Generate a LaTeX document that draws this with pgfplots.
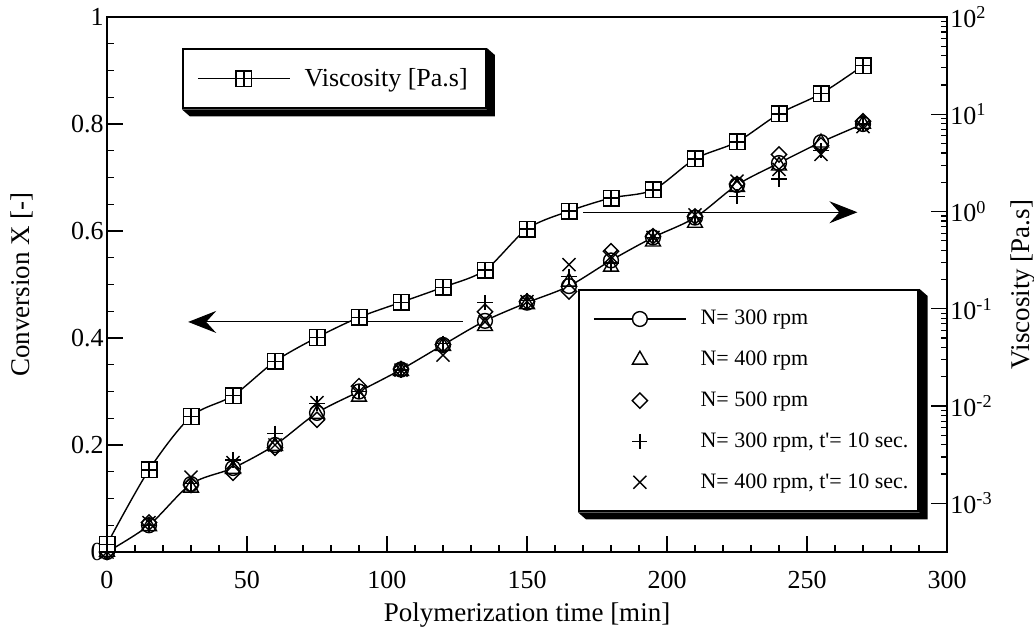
\documentclass[border=0pt]{standalone}
\usepackage{pgfplots}
\pgfplotsset{compat=1.18}
\usepackage{fontspec}
\setmainfont{Liberation Serif}
\usetikzlibrary{arrows.meta,calc}

\pgfdeclareplotmark{boxplus}{%
  \pgfpathrectangle{\pgfqpoint{-\pgfplotmarksize}{-\pgfplotmarksize}}{\pgfqpoint{2\pgfplotmarksize}{2\pgfplotmarksize}}%
  \pgfusepathqfillstroke
  \pgfpathmoveto{\pgfqpoint{-\pgfplotmarksize}{0pt}}\pgfpathlineto{\pgfqpoint{\pgfplotmarksize}{0pt}}%
  \pgfpathmoveto{\pgfqpoint{0pt}{-\pgfplotmarksize}}\pgfpathlineto{\pgfqpoint{0pt}{\pgfplotmarksize}}%
  \pgfusepathqstroke}

\pgfplotsset{
  legimg/.style={legend image code/.code={\draw[mark repeat=2,mark phase=2,##1] plot coordinates {(0pt,0pt) (23pt,0pt) (46pt,0pt)};}},
  legimgB/.style={legend image code/.code={\path (-4pt,0pt); \draw[mark repeat=2,mark phase=2,##1] plot coordinates {(0pt,0pt) (23pt,0pt) (46pt,0pt)};}},
  base/.style={
    scale only axis, width=420pt, height=267.5pt,
    xmin=0, xmax=300, clip=false,
    axis line style={line width=1.2pt},
    every tick/.style={black, line width=0.6pt},
    tick align=inside,
    major tick length=8pt, minor tick length=3.5pt,
    /pgf/number format/assume math mode=true,
    tick label style={font=\fontsize{13}{15}\selectfont},
    label style={font=\fontsize{13.5}{15}\selectfont},
  },
  boxed/.style={draw=black, line width=1.2pt, fill=white},
}

\newcommand{\legshadow}[1]{%
  \fill[black] (#1.south west) -- ($(#1.south west)+(4pt,-3.5pt)$) -- ($(#1.south east)+(4pt,-3.5pt)$)
    -- ($(#1.north east)+(4pt,-3.5pt)$) -- (#1.north east) -- (#1.south east) -- cycle;}

\pgfplotstableread{
x c300 t400 d500 p300 x400
0 0 0 0 0 0
15 0.05 0.048 0.055 0.05 0.055
30 0.127 0.12 0.125 0.128 0.14
45 0.157 0.155 0.148 0.172 0.167
60 0.2 0.198 0.195 0.222 0.2
75 0.26 0.258 0.247 0.278 0.279
90 0.30 0.29 0.31 0.30 0.30
105 0.341 0.338 0.342 0.34 0.34
120 0.387 0.385 0.388 0.39 0.368
135 0.432 0.422 0.449 0.466 0.43
150 0.466 0.463 0.468 0.47 0.468
165 0.497 0.505 0.487 0.515 0.537
180 0.545 0.533 0.562 0.54 0.552
195 0.588 0.58 0.59 0.588 0.588
210 0.625 0.615 0.627 0.625 0.63
225 0.686 0.682 0.688 0.665 0.693
240 0.727 0.722 0.743 0.697 0.715
255 0.766 0.765 0.76 0.75 0.743
270 0.80 0.80 0.805 0.80 0.795
}\conv

\pgfplotstableread{
x visc
0 3.8e-4
15 2.21e-3
30 7.8e-3
45 1.28e-2
60 2.88e-2
75 5.08e-2
90 8.17e-2
105 0.1167
120 0.1667
135 0.2495
150 0.661
165 1.01
180 1.377
195 1.667
210 3.475
225 5.2
240 10.1
255 16.3
270 31.6
}\visc

\begin{document}
\begin{tikzpicture}
\begin{axis}[base, name=ax1,
  ymin=0, ymax=1,
  tick pos=left,
  xtick={0,50,100,150,200,250,300}, ytick={0,0.2,0.4,0.6,0.8,1},
  minor x tick num=4, minor y tick num=3,
  xticklabel style={yshift=-6pt},
  yticklabel style={xshift=1.8pt},
  xlabel={Polymerization time [min]},
  ylabel={Conversion X [-]},
  xlabel style={at={(axis description cs:0.5,-0.1178)}, anchor=center},
  ylabel style={at={(axis description cs:-0.101,0.5)}, anchor=center},
  legend style={at={(axis description cs:0.5607,0.4916)}, anchor=north west, boxed, name=legB,
    font=\fontsize{11}{12}\selectfont, inner xsep=3pt, inner ysep=8pt, row sep=7.6pt,
    /tikz/every odd column/.append style={column sep=5pt}},
  legend cell align=left,
]
\addplot[black, line width=0.7pt, smooth, mark=*, mark size=3.7pt, mark options={fill=white}, legimgB] table[x=x,y=c300] {\conv};
\addlegendentry{N= 300 rpm}
\addplot[black, line width=0.7pt, only marks, mark=triangle, mark size=4.3pt, legimgB] table[x=x,y=t400] {\conv};
\addlegendentry{N= 400 rpm}
\addplot[black, line width=0.7pt, only marks, mark=square, mark size=2.7pt, mark options={rotate=45}, legimgB] table[x=x,y=d500] {\conv};
\addlegendentry{N= 500 rpm}
\addplot[black, line width=0.7pt, only marks, mark=+, mark size=3.8pt, legimgB] table[x=x,y=p300] {\conv};
\addlegendentry{N= 300 rpm, t\textquotesingle= 10 sec.}
\addplot[black, line width=0.7pt, only marks, mark=x, mark size=4.6pt, legimgB] table[x=x,y=x400] {\conv};
\addlegendentry{N= 400 rpm, t\textquotesingle= 10 sec.}
\draw[black, line width=0.5pt, -{Stealth[length=14pt,width=11pt,inset=5pt]}] (axis cs:127,0.43) -- (axis cs:29,0.43);
\draw[black, line width=0.5pt, -{Stealth[length=14pt,width=11pt,inset=5pt]}] (axis cs:170,0.635) -- (axis cs:268,0.635);
\end{axis}
\legshadow{legB}
\begin{axis}[base,
  ymode=log, ymin=3.1623e-4, ymax=100,
  hide x axis, axis y line*=right,
  minor tick length=3pt,
  ytick={1e-3,1e-2,1e-1,1,10,100},
  yticklabels={10\textsuperscript{-3},10\textsuperscript{-2},10\textsuperscript{-1},10\textsuperscript{0},10\textsuperscript{1},10\textsuperscript{2}},
  yticklabel style={xshift=-1.8pt},
  ylabel={Viscosity [Pa.s]},
  ylabel style={at={(axis description cs:1.0905,0.5)}, anchor=center},
  legend style={at={(axis description cs:0.0893,0.942)}, anchor=north west, boxed, name=legA,
    font=\fontsize{13}{14}\selectfont, inner xsep=7pt, inner ysep=7.5pt,
    /tikz/every odd column/.append style={column sep=5pt}},
]
\addplot[black, line width=0.7pt, smooth, mark=boxplus, mark size=3.9pt, mark options={fill=white}, legimg] table[x=x,y=visc] {\visc};
\addlegendentry{Viscosity [Pa.s]}
\end{axis}
\legshadow{legA}
\path (ax1.south west) ++(-53.5pt,-39pt) coordinate (bbl);
\path (ax1.north east) ++(43.5pt,8.5pt) coordinate (btr);
\pgfresetboundingbox
\path (bbl) rectangle (btr);
\end{tikzpicture}
\end{document}
